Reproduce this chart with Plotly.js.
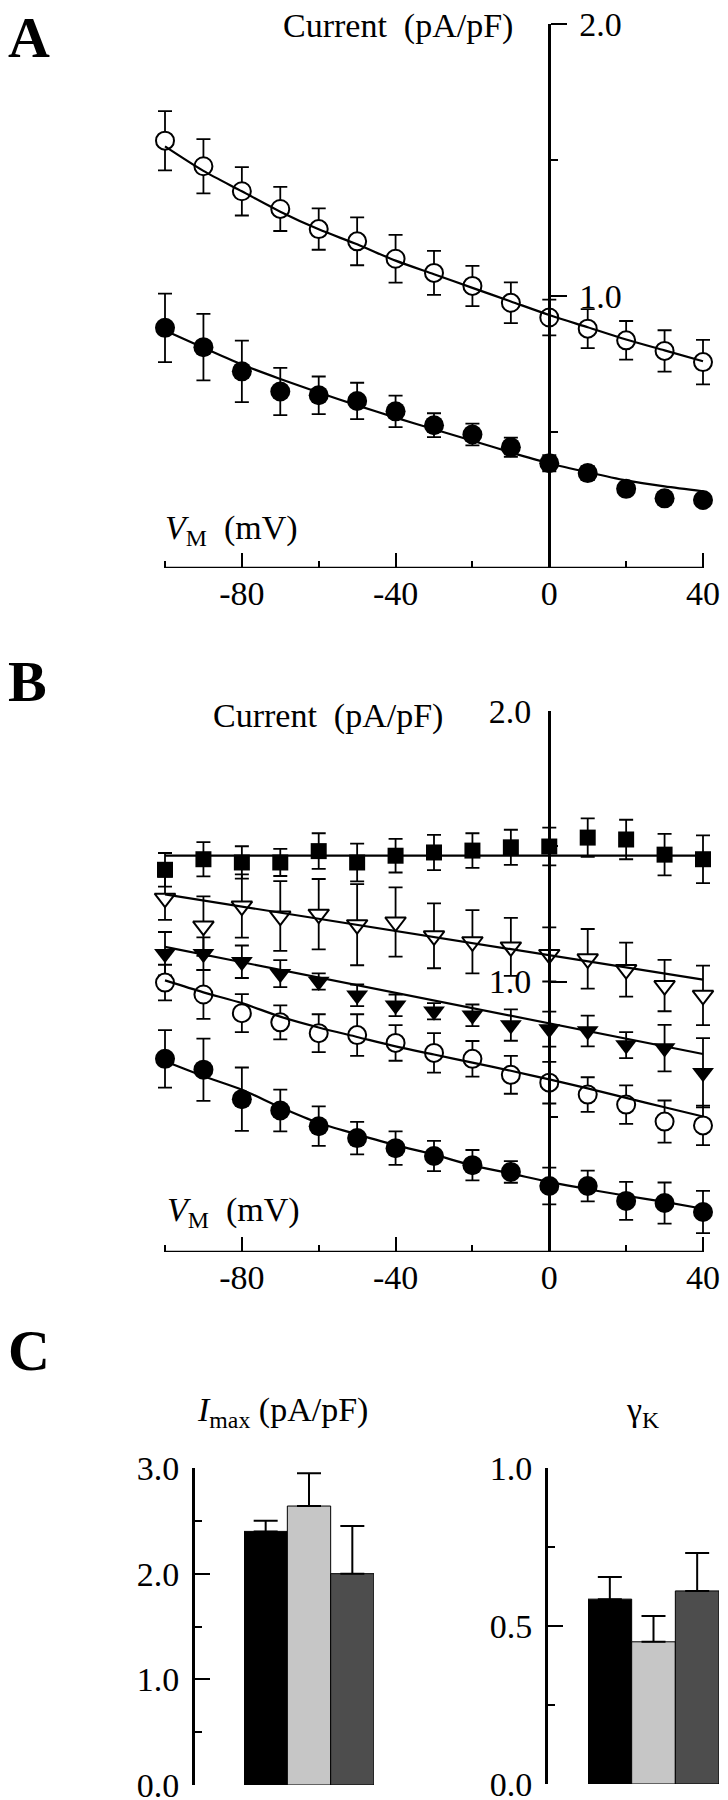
<!DOCTYPE html>
<html>
<head>
<meta charset="utf-8">
<script src="https://cdn.plot.ly/plotly-3.0.1.min.js"></script>
<style>
  body { margin: 0; background: #fff; }
  #chart { width: 728px; height: 1800px; }
</style>
</head>
<body>
<div id="chart"></div>
<script>
// === DATA ===
const vm = [-100, -90, -80, -70, -60, -50, -40, -30, -20, -10, 0, 10, 20, 30, 40];
const fitEnds = [-100, 40];

// panel A
const aOpen = [1.571, 1.477, 1.385, 1.320, 1.246, 1.201, 1.137, 1.085, 1.037, 0.975, 0.921, 0.880, 0.837, 0.798, 0.757];
const aOpenErr = [0.109, 0.100, 0.089, 0.081, 0.076, 0.088, 0.088, 0.081, 0.074, 0.075, 0.066, 0.072, 0.071, 0.076, 0.082];
const aOpenFit = [1.550, 1.460, 1.385, 1.310, 1.245, 1.190, 1.130, 1.080, 1.030, 0.980, 0.930, 0.885, 0.840, 0.800, 0.760];
const aFilled = [0.883, 0.812, 0.723, 0.649, 0.635, 0.614, 0.576, 0.525, 0.491, 0.444, 0.385, 0.349, 0.291, 0.256, 0.250];
const aFilledErr = [0.126, 0.122, 0.113, 0.087, 0.069, 0.067, 0.058, 0.044, 0.040, 0.035, 0.030, 0.025, 0.020, 0.020, 0.020];
const aFilledFit = [0.873, 0.810, 0.748, 0.695, 0.645, 0.598, 0.553, 0.510, 0.468, 0.425, 0.385, 0.352, 0.322, 0.300, 0.282];

// panel B
const bSquare = [1.413, 1.452, 1.440, 1.440, 1.482, 1.440, 1.465, 1.477, 1.484, 1.496, 1.499, 1.532, 1.525, 1.469, 1.452];
const bSquareErr = [0.062, 0.063, 0.060, 0.050, 0.066, 0.070, 0.062, 0.065, 0.064, 0.065, 0.070, 0.071, 0.073, 0.077, 0.088];
const bSquareFit = [1.465, 1.465];
const bTriOpen = [1.308, 1.205, 1.279, 1.242, 1.249, 1.210, 1.220, 1.169, 1.147, 1.128, 1.100, 1.084, 1.044, 0.985, 0.949];
const bTriOpenErr = [0.080, 0.110, 0.117, 0.129, 0.130, 0.150, 0.128, 0.120, 0.117, 0.107, 0.100, 0.110, 0.100, 0.095, 0.110];
const bTriOpenFit = [1.322, 1.007];
const bTriFilled = [1.103, 1.103, 1.073, 1.029, 1.000, 0.949, 0.912, 0.890, 0.875, 0.839, 0.824, 0.817, 0.765, 0.754, 0.663];
const bTriFilledErr = [0.080, 0.060, 0.060, 0.050, 0.030, 0.040, 0.040, 0.030, 0.040, 0.058, 0.065, 0.057, 0.048, 0.086, 0.128];
const bTriFilledFit = [1.128, 0.732];
const bOpen = [0.996, 0.952, 0.883, 0.849, 0.809, 0.802, 0.773, 0.736, 0.714, 0.655, 0.626, 0.582, 0.545, 0.482, 0.468];
const bOpenErr = [0.066, 0.090, 0.070, 0.063, 0.070, 0.077, 0.066, 0.073, 0.066, 0.070, 0.077, 0.064, 0.071, 0.078, 0.073];
const bOpenFit = [1.004, 0.960, 0.920, 0.870, 0.830, 0.795, 0.760, 0.730, 0.700, 0.670, 0.638, 0.605, 0.570, 0.535, 0.501];
const bFilled = [0.714, 0.674, 0.565, 0.523, 0.465, 0.421, 0.384, 0.355, 0.321, 0.296, 0.244, 0.244, 0.189, 0.181, 0.148];
const bFilledErr = [0.106, 0.115, 0.117, 0.077, 0.073, 0.060, 0.062, 0.056, 0.056, 0.040, 0.068, 0.057, 0.070, 0.076, 0.078];
const bFilledFit = [0.705, 0.650, 0.600, 0.535, 0.477, 0.435, 0.395, 0.360, 0.320, 0.290, 0.259, 0.232, 0.208, 0.185, 0.160];

// panel C
const groups = [0, 1, 2];
const groupColors = ["#000000", "#c6c6c6", "#4d4d4d"];
const imax = [2.40, 2.64, 2.00];
const imaxErr = [0.10, 0.31, 0.45];
const gammaK = [0.585, 0.450, 0.611];
const gammaKErr = [0.070, 0.082, 0.120];

// === HELPERS ===
const W = 728, H = 1800;
const px = x => x / W;
const py = y => 1 - y / H;
const FONT = "Liberation Serif";
// x axis spans -100..40 mV over pixels 165..703; a little slack so edge error bars are not clipped
const PX_PER_MV = (703 - 165) / 140;
const SLACK = 3;

function points(x, y, err, symbol, size, xa, ya) {
  const open = symbol.indexOf("open") >= 0;
  return {
    x: x, y: y, xaxis: xa, yaxis: ya,
    type: "scatter", mode: "markers", cliponaxis: false, showlegend: false,
    marker: {
      symbol: open ? symbol.replace("-open", "") : symbol,
      size: size,
      color: open ? "#ffffff" : "#000000",
      line: { color: "#000000", width: open ? 2 : 0 }
    },
    error_y: { type: "data", array: err, visible: true, color: "#000000", thickness: 1.8, width: 7 }
  };
}

function fitLine(x, y, xa, ya) {
  return {
    x: x, y: y, xaxis: xa, yaxis: ya,
    type: "scatter", mode: "lines", showlegend: false, cliponaxis: false,
    line: { color: "#000000", width: 2.2, shape: "spline", smoothing: 0.8 }
  };
}

function bars(y, err, xa, ya) {
  return {
    x: groups, y: y, xaxis: xa, yaxis: ya,
    type: "bar", width: 1, showlegend: false,
    marker: { color: groupColors, line: { color: "#000000", width: 1 } },
    error_y: { type: "data", array: err, arrayminus: [0, 0, 0], symmetric: false,
               color: "#000000", thickness: 2, width: 12 }
  };
}

const tickFont = { family: FONT, size: 34, color: "#000000" };

function vAxis(anchor) {
  const pad = SLACK * PX_PER_MV;
  return {
    anchor: anchor,
    domain: [px(165 - pad), px(703 + pad)], range: [-100 - SLACK, 40 + SLACK],
    showline: false, showgrid: false, zeroline: false,
    ticks: "inside", ticklen: 15, tickwidth: 2, tickcolor: "#000000",
    tickmode: "array", tickvals: [-80, -40, 0, 40], ticktext: ["-80", "-40", "0", "40"],
    minor: { tickmode: "array", tickvals: [-100, -60, -20, 20], ticks: "inside", ticklen: 7, tickwidth: 2, tickcolor: "#000000" },
    tickfont: tickFont, ticklabelstandoff: 2, fixedrange: true
  };
}

function iAxis(top, bottom, side, tickDir) {
  return {
    domain: [py(bottom), py(top)], range: [0, 2], anchor: "free", position: px(549),
    side: side, showline: true, linecolor: "#000000", linewidth: 2.5,
    showgrid: false, zeroline: false,
    ticks: tickDir, ticklen: 16, tickwidth: 2, tickcolor: "#000000",
    tickmode: "array", tickvals: [1, 2], ticktext: ["1.0", "2.0"],
    minor: { tickmode: "array", tickvals: [0.5, 1.5], ticks: tickDir, ticklen: 7, tickwidth: 2, tickcolor: "#000000" },
    tickfont: tickFont, ticklabelstandoff: side === "right" ? 6 : 10,
    ticklabeloverflow: "allow", fixedrange: true
  };
}

function barY(pos, top, bottom, max, majors, minors) {
  return {
    domain: [py(bottom), py(top)], range: [0, max], anchor: "free", position: px(pos),
    side: "left", showline: true, linecolor: "#000000", linewidth: 2.5,
    showgrid: false, zeroline: false,
    ticks: "inside", ticklen: 15, tickwidth: 2, tickcolor: "#000000",
    tickmode: "array", tickvals: majors, ticktext: majors.map(v => v.toFixed(1)),
    minor: { tickmode: "array", tickvals: minors, ticks: "inside", ticklen: 7, tickwidth: 2, tickcolor: "#000000" },
    tickfont: tickFont, ticklabelstandoff: 6, ticklabeloverflow: "allow", fixedrange: true
  };
}

// x axis line from -100 to 40 at zero current
function baseLine(xref, yref) {
  return {
    type: "line", xref: xref, yref: yref, x0: -100, x1: 40, y0: 0, y1: 0,
    line: { color: "#000000", width: 2.5 }
  };
}

// === TRACES ===
const traces = [
  points(vm, aOpen, aOpenErr, "circle-open", 18, "x", "y"),
  points(vm, aFilled, aFilledErr, "circle", 20, "x", "y"),
  fitLine(vm, aOpenFit, "x", "y"),
  fitLine(vm, aFilledFit, "x", "y"),

  points(vm, bSquare, bSquareErr, "square", 16, "x2", "y2"),
  points(vm, bTriOpen, bTriOpenErr, "triangle-down-open", 18, "x2", "y2"),
  points(vm, bTriFilled, bTriFilledErr, "triangle-down", 19, "x2", "y2"),
  points(vm, bOpen, bOpenErr, "circle-open", 18, "x2", "y2"),
  points(vm, bFilled, bFilledErr, "circle", 20, "x2", "y2"),
  fitLine(fitEnds, bSquareFit, "x2", "y2"),
  fitLine(fitEnds, bTriOpenFit, "x2", "y2"),
  fitLine(fitEnds, bTriFilledFit, "x2", "y2"),
  fitLine(vm, bOpenFit, "x2", "y2"),
  fitLine(vm, bFilledFit, "x2", "y2"),

  bars(imax, imaxErr, "x3", "y3"),
  bars(gammaK, gammaKErr, "x4", "y4")
];

// === LAYOUT ===
function note(text, x, y, size, xanchor) {
  return {
    text: text, x: px(x), y: py(y), xref: "paper", yref: "paper",
    xanchor: xanchor, yanchor: "middle", showarrow: false,
    font: { family: FONT, size: size, color: "#000000" }
  };
}

const layout = {
  width: W, height: H,
  margin: { l: 0, r: 0, t: 0, b: 0 },
  paper_bgcolor: "#ffffff", plot_bgcolor: "rgba(0,0,0,0)",
  showlegend: false, bargap: 0,
  xaxis: vAxis("y"),
  yaxis: iAxis(24, 568, "right", "outside"),
  xaxis2: vAxis("y2"),
  yaxis2: iAxis(711, 1252, "left", "inside"),
  xaxis3: { domain: [px(244), px(374)], range: [-0.5, 2.5], anchor: "y3", visible: false, fixedrange: true },
  yaxis3: barY(193, 1468, 1785, 3, [0, 1, 2, 3], [0.5, 1.5, 2.5]),
  xaxis4: { domain: [px(588), px(719)], range: [-0.5, 2.5], anchor: "y4", visible: false, fixedrange: true },
  yaxis4: barY(546, 1468, 1784, 1, [0, 0.5, 1], [0.25, 0.75]),
  shapes: [baseLine("x", "y"), baseLine("x2", "y2")],
  annotations: [
    note("<b>A</b>", 6, 38, 58, "left"),
    note("<b>B</b>", 6, 682, 58, "left"),
    note("<b>C</b>", 6, 1350, 58, "left"),
    note("Current\u00a0\u00a0(pA/pF)", 515, 26, 34, "right"),
    note("Current\u00a0\u00a0(pA/pF)", 445, 716, 34, "right"),
    note("<i>V</i><sub>M</sub>\u00a0\u00a0(mV)", 163, 530, 34, "left"),
    note("<i>V</i><sub>M</sub>\u00a0\u00a0(mV)", 165, 1212, 34, "left"),
    note("<i>I</i><sub>max</sub> (pA/pF)", 282, 1412, 34, "center"),
    note("\u03b3<sub>K</sub>", 642, 1412, 34, "center")
  ]
};

Plotly.newPlot("chart", traces, layout, { staticPlot: true, displayModeBar: false });
</script>
</body>
</html>
